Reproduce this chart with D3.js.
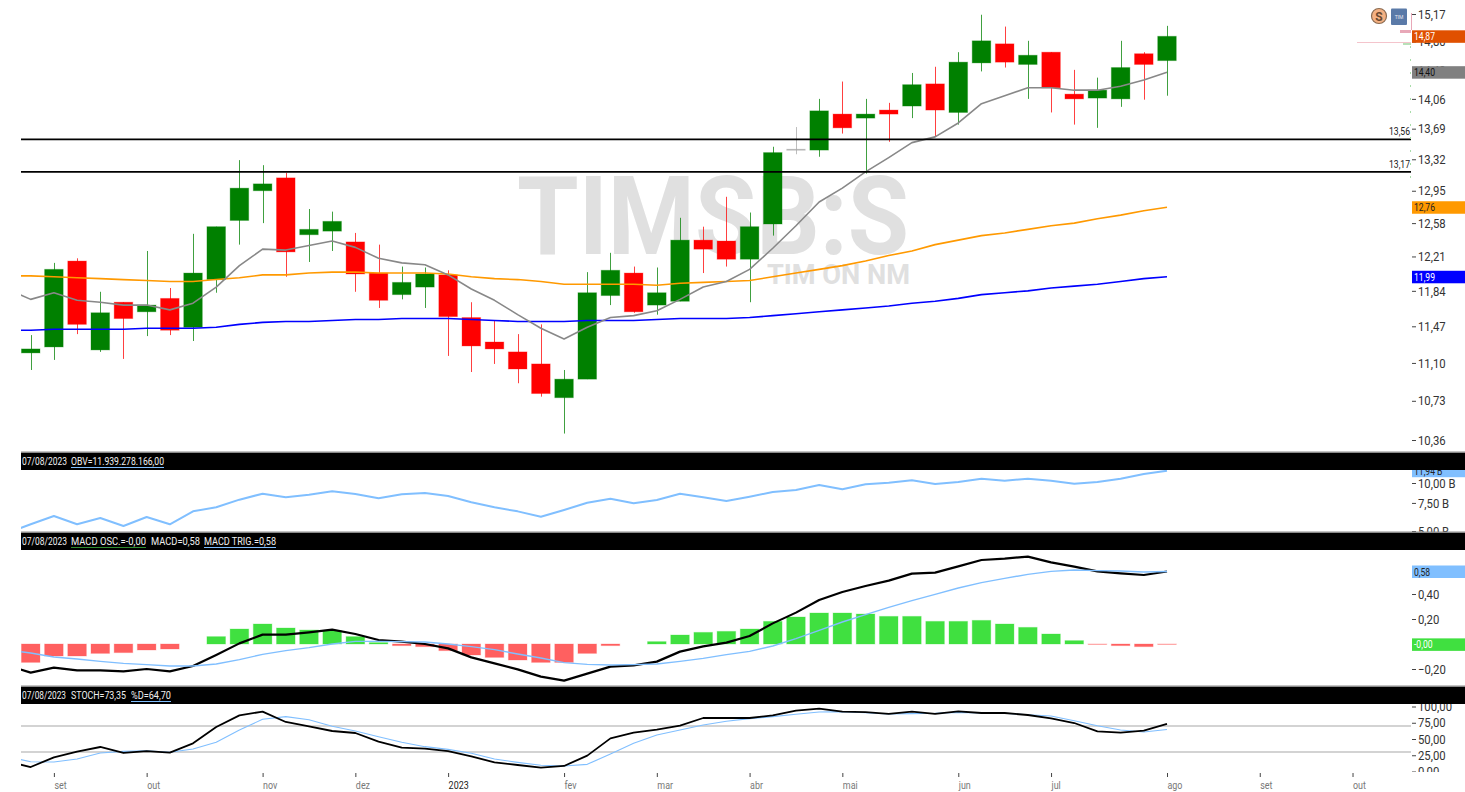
<!DOCTYPE html>
<html>
<head>
<meta charset="utf-8">
<title>TIMS3</title>
<script src="https://d3js.org/d3.v7.min.js"></script>
<style>
    body { margin: 0; background: #ffffff; overflow: hidden; }
    text { font-family: Roboto, "Open Sans", sans-serif; }
    .tick line { stroke: #444444; }
    .domain { display: none; }
</style>
</head>
<body>
<svg id="chart" width="1465" height="792"></svg>
<script>
// weekly candles, aug/2022 to aug/2023
var opens = [11.20,11.26,12.16,11.23,11.72,11.62,11.76,11.46,11.96,12.61,12.95,13.10,12.45,12.49,12.37,12.03,11.80,11.88,12.01,11.56,11.31,11.21,11.09,10.76,10.94,11.79,12.03,11.69,11.73,12.39,12.38,12.18,12.57,13.44,13.43,13.87,13.82,13.92,13.97,14.25,13.89,14.52,14.77,14.50,14.66,14.12,14.07,14.06,14.64,14.55];
var closes = [11.24,12.07,11.49,11.61,11.55,11.69,11.43,12.03,12.54,12.98,13.03,12.26,12.51,12.60,12.02,11.74,11.93,12.02,11.57,11.27,11.24,11.04,10.80,10.94,11.82,12.06,11.62,11.82,12.39,12.29,12.18,12.54,13.40,13.44,13.91,13.70,13.87,13.87,14.24,13.92,14.53,14.81,14.53,14.62,14.20,14.06,14.17,14.46,14.50,14.87];
var highs = [11.38,12.14,12.19,11.83,11.72,12.27,11.87,12.46,12.54,13.31,13.25,13.16,12.74,12.71,12.47,12.34,12.10,12.09,12.06,11.72,11.53,11.39,11.49,11.03,12.04,12.25,12.10,12.09,12.64,12.54,12.88,12.70,13.47,13.71,14.06,14.28,14.06,14.01,14.39,14.47,14.66,15.16,15.00,14.81,14.66,14.43,14.33,14.81,14.66,15.01];
var lows = [11.03,11.13,11.39,11.21,11.14,11.37,11.38,11.32,11.82,12.34,12.58,11.99,12.15,12.27,11.83,11.66,11.75,11.66,11.17,11.01,11.09,10.90,10.77,10.42,10.94,11.69,11.61,11.59,11.73,12.03,12.10,11.72,12.44,13.38,13.35,13.63,13.15,13.53,13.82,13.59,13.74,14.41,14.46,14.06,13.89,13.74,13.70,13.96,14.05,14.10];

// the line series start one week before the first visible candle
var maGrey = [11.86,11.75,11.82,11.74,11.72,11.69,11.69,11.64,11.71,11.88,12.11,12.29,12.28,12.33,12.38,12.31,12.19,12.14,12.12,12.01,11.86,11.74,11.59,11.45,11.34,11.46,11.56,11.58,11.63,11.75,11.88,11.94,12.07,12.30,12.55,12.82,12.98,13.17,13.34,13.52,13.59,13.76,14.00,14.10,14.20,14.20,14.17,14.17,14.22,14.30,14.40];
var maOrange = [12.00,12.00,11.99,11.98,11.97,11.96,11.95,11.94,11.94,11.96,11.98,12.01,12.01,12.03,12.04,12.04,12.03,12.03,12.03,12.02,11.99,11.97,11.96,11.94,11.91,11.91,11.91,11.91,11.90,11.92,11.93,11.94,11.95,11.99,12.03,12.07,12.11,12.16,12.22,12.27,12.34,12.39,12.44,12.47,12.51,12.55,12.58,12.63,12.67,12.72,12.76];
var maBlue = [11.43,11.43,11.44,11.44,11.44,11.44,11.45,11.45,11.45,11.46,11.49,11.51,11.52,11.52,11.53,11.54,11.54,11.55,11.55,11.55,11.54,11.53,11.52,11.52,11.52,11.53,11.53,11.53,11.54,11.55,11.55,11.55,11.56,11.58,11.60,11.62,11.64,11.66,11.68,11.71,11.73,11.76,11.80,11.82,11.84,11.87,11.89,11.91,11.94,11.97,11.99];
var supports = [13.56, 13.17];
var priceTicks = [15.17,14.80,14.43,14.06,13.69,13.32,12.95,12.58,12.21,11.84,11.47,11.10,10.73,10.36];

var obv = [4.86,5.51,6.21,5.51,6.03,5.37,6.12,5.51,6.64,7.04,7.86,8.57,8.13,8.44,8.87,8.53,8.02,8.49,8.66,8.29,7.57,7.04,6.64,6.14,6.77,7.52,7.97,7.46,7.82,8.57,8.13,7.71,8.20,8.78,9.04,9.71,9.13,9.81,10.04,10.40,9.86,10.15,10.64,10.34,10.64,10.34,9.90,10.15,10.64,11.39,11.94];
var obvTicks = [10, 7.5, 5];

var macdOsc = [-.147,-.096,-.096,-.075,-.069,-.048,-.04,0,.059,.12,.16,.128,.112,.107,.059,.011,-.013,-.021,-.053,-.088,-.107,-.128,-.147,-.147,-.075,-.013,0,.019,.072,.093,.101,.12,.181,.216,.248,.248,.24,.221,.221,.181,.181,.189,.16,.133,.08,.027,-.003,-.013,-.021,-.003];
var macdLine = [-.17,-.229,-.189,-.211,-.211,-.219,-.2,-.219,-.176,-.088,.005,.075,.075,.093,.115,.08,.032,.019,0,-.035,-.107,-.155,-.203,-.261,-.293,-.237,-.181,-.171,-.141,-.061,-.019,.011,.064,.165,.251,.352,.416,.464,.507,.563,.571,.621,.672,.683,.699,.653,.619,.581,.565,.552,.58];
var macdTrig = [-.048,-.072,-.104,-.12,-.139,-.155,-.165,-.176,-.176,-.16,-.125,-.083,-.053,-.029,0,.021,.021,.019,.016,0,-.021,-.045,-.08,-.112,-.149,-.163,-.168,-.165,-.16,-.139,-.115,-.085,-.059,-.016,.043,.109,.176,.235,.293,.347,.397,.448,.491,.525,.557,.581,.592,.587,.584,.576,.58];
var macdTicks = [0.4, 0.2, -0.2];

var stochK = [15.1,6.9,21.8,30.5,37.7,28.5,31.5,29,43.3,68.5,86.4,92.1,76.2,69.5,62.3,59.2,45.9,36.7,35.1,31.5,23.3,14.1,10,5.9,8.5,24.4,51,59.7,64.4,70.5,82.3,82.3,82.3,86.4,93.6,96.7,92.1,91.5,88.5,92.1,88.5,92.6,90,90,86.9,81.8,74.6,61.8,59.7,62.8,73.35];
var stochD = [22.8,15.1,14.6,19.2,28.5,31,32,29.5,34.6,44.9,63.9,80.3,84.4,79.7,69.5,62.3,53.6,44.9,38.2,34.1,28,19.2,14.1,9.5,8.5,11,26.9,43.3,56.2,63.9,71.5,77.2,81.3,84.4,88,91.5,92.1,90.5,88.5,89,89.5,91,90,89.5,87.4,85.4,78.2,70.5,63.9,60.8,64.7];
var stochTicks = [100, 75, 50, 25, 0];
var stochLevels = [70, 30];

var monthWeeks = [1,5,10,14,18,23,27,31,35,40,44,49,53,57];
var monthNames = ['set','out','nov','dez','2023','fev','mar','abr','mai','jun','jul','ago','set','out'];

var ptBr = d3.formatLocale({decimal: ',', thousands: '.', grouping: [3], currency: ['', '']});
var fmt2 = ptBr.format('.2f');

var svg = d3.select('#chart');
var plotLeft = 21, plotRight = 1411, width = 1465;

var x = d3.scaleLinear().domain([0, 49]).range([30.7, 1167]);
var yPrice = d3.scaleLog().domain([10.36, 15.17]).range([440, 14]);
var yObv = d3.scaleLog().domain([5, 10]).range([531, 483]);
var yMacd = d3.scaleLinear().domain([-0.2, 0.4]).range([669, 594]);
var yStoch = d3.scaleLinear().domain([0, 100]).range([771.5, 706.5]);

function addClip(id, x0, y0, w, h) {
    svg.append('clipPath').attr('id', id).append('rect')
        .attr('x', x0).attr('y', y0).attr('width', w).attr('height', h);
}
addClip('clip-main', plotLeft, 0, plotRight - plotLeft, 452);
addClip('clip-obv', plotLeft, 470, plotRight - plotLeft, 63);
addClip('clip-macd', plotLeft, 550, plotRight - plotLeft, 137);
addClip('clip-stoch', plotLeft, 704, plotRight - plotLeft, 68);
addClip('axis-main', plotRight, 0, 54, 452);
addClip('axis-obv', plotRight, 470, 54, 63);
addClip('axis-macd', plotRight, 550, 54, 137);
addClip('axis-stoch', plotRight, 704, 54, 68);

// text here is narrower than any installed font, so squeeze it to fit
function squeeze(sel, k) {
    sel.each(function() {
        var len = this.getComputedTextLength();
        d3.select(this).attr('textLength', len * k).attr('lengthAdjust', 'spacingAndGlyphs');
    });
}

function drawLine(g, values, yScale, color, w) {
    var line = d3.line()
        .x(function(d, i) { return x(i - 1); })
        .y(function(d) { return yScale(d); });
    g.append('path')
        .datum(values)
        .attr('fill', 'none')
        .attr('stroke', color)
        .attr('stroke-width', w)
        .attr('stroke-linejoin', 'round')
        .attr('d', line);
}

function drawYAxis(clipId, yScale, ticks, format) {
    var g = svg.append('g')
        .attr('clip-path', 'url(#' + clipId + ')')
        .append('g')
        .attr('transform', 'translate(1412,0)')
        .call(d3.axisRight(yScale).tickValues(ticks).tickFormat(format).tickSize(4).tickPadding(2));
    g.selectAll('text')
        .attr('font-size', 13)
        .attr('fill', '#333333')
        .call(squeeze, 0.87);
}

function drawTag(clipId, yPos, label, bg, fg) {
    var g = svg.append('g').attr('clip-path', 'url(#' + clipId + ')');
    g.append('rect')
        .attr('x', 1412).attr('y', yPos - 6)
        .attr('width', width - 1412).attr('height', 12.5)
        .attr('fill', bg);
    g.append('text')
        .attr('x', 1414).attr('y', yPos + 4)
        .attr('font-size', 11)
        .attr('fill', fg)
        .text(label)
        .call(squeeze, 0.78);
}

function drawHeader(top, parts) {
    svg.append('rect').attr('x', plotLeft).attr('y', top - 1.5).attr('width', width - plotLeft).attr('height', 1.5).attr('fill', '#8a8a8a');
    svg.append('rect').attr('x', plotLeft).attr('y', top).attr('width', width - plotLeft).attr('height', 17).attr('fill', '#000000');
    parts.forEach(function(p) {
        svg.append('text')
            .attr('x', p.x).attr('y', top + 12)
            .attr('font-size', 11)
            .attr('fill', '#f0f0f0')
            .attr('textLength', p.w)
            .attr('lengthAdjust', 'spacingAndGlyphs')
            .text(p.t);
        if (p.u) {
            svg.append('line')
                .attr('x1', p.x).attr('x2', p.x + p.w)
                .attr('y1', top + 14.5).attr('y2', top + 14.5)
                .attr('stroke', p.u);
        }
    });
}

// ---- price panel
var main = svg.append('g').attr('clip-path', 'url(#clip-main)');

main.append('text')
    .attr('x', 517).attr('y', 254)
    .attr('font-size', 110).attr('font-weight', 700)
    .attr('fill', '#e0e0e0')
    .attr('textLength', 392).attr('lengthAdjust', 'spacingAndGlyphs')
    .text('TIMSB:S');
main.append('text')
    .attr('x', 767).attr('y', 284)
    .attr('font-size', 28).attr('font-weight', 700)
    .attr('fill', '#e0e0e0')
    .attr('textLength', 143).attr('lengthAdjust', 'spacingAndGlyphs')
    .text('TIM ON NM');

var bodyW = (x(1) - x(0)) * 0.8;
function candleColor(i) {
    if (closes[i] > opens[i]) return '#008000';
    if (closes[i] < opens[i]) return '#ff0000';
    return '#a8a8a8';
}
var candle = main.selectAll('.candle')
    .data(opens)
    .enter().append('g')
    .attr('class', 'candle');
candle.append('line')
    .attr('x1', function(d, i) { return Math.round(x(i)) + 0.5; })
    .attr('x2', function(d, i) { return Math.round(x(i)) + 0.5; })
    .attr('y1', function(d, i) { return yPrice(highs[i]); })
    .attr('y2', function(d, i) { return yPrice(lows[i]); })
    .attr('stroke', function(d, i) { return candleColor(i); })
    .attr('stroke-opacity', 0.75);
candle.append('rect')
    .attr('x', function(d, i) { return x(i) - bodyW / 2; })
    .attr('y', function(d, i) { return yPrice(Math.max(opens[i], closes[i])); })
    .attr('width', bodyW)
    .attr('height', function(d, i) { return Math.max(1, Math.abs(yPrice(opens[i]) - yPrice(closes[i]))); })
    .attr('fill', function(d, i) { return candleColor(i); })
    .attr('stroke', function(d, i) { return candleColor(i); })
    .attr('stroke-opacity', 0.3);

drawLine(main, maBlue, yPrice, '#0000ff', 1.6);
drawLine(main, maOrange, yPrice, '#ff9900', 1.6);
drawLine(main, maGrey, yPrice, '#888888', 1.6);

main.selectAll('.support')
    .data(supports)
    .enter().append('line')
    .attr('class', 'support')
    .attr('x1', plotLeft).attr('x2', plotRight)
    .attr('y1', function(d) { return yPrice(d); })
    .attr('y2', function(d) { return yPrice(d); })
    .attr('stroke', '#000000')
    .attr('stroke-width', 1.6);
main.selectAll('.support-label')
    .data(supports)
    .enter().append('text')
    .attr('class', 'support-label')
    .attr('x', 1410)
    .attr('y', function(d) { return yPrice(d) - 4; })
    .attr('text-anchor', 'end')
    .attr('font-size', 11)
    .attr('fill', '#222222')
    .text(function(d) { return fmt2(d); })
    .call(squeeze, 0.78);

// small price-profile marks next to the axis
main.append('line').attr('x1', 1357).attr('x2', plotRight).attr('y1', 42.5).attr('y2', 42.5).attr('stroke', '#f4c4cc');
main.append('rect').attr('x', 1400).attr('y', 30).attr('width', 11).attr('height', 3).attr('fill', '#e8a8b8');
main.append('rect').attr('x', 1403).attr('y', 43).attr('width', 8).attr('height', 2).attr('fill', '#b8e0b8');
svg.append('line').attr('x1', 1411.5).attr('x2', 1411.5).attr('y1', 13).attr('y2', 30).attr('stroke', '#e8a8b8');
svg.append('line').attr('x1', 1410.5).attr('x2', 1410.5).attr('y1', 46).attr('y2', 180)
    .attr('stroke', '#a8dca8').attr('stroke-dasharray', '2,11');

drawYAxis('axis-main', yPrice, priceTicks, fmt2);
drawTag('axis-main', yPrice(closes[49]), fmt2(closes[49]), '#e05000', '#ffffff');
drawTag('axis-main', yPrice(maGrey[50]), fmt2(maGrey[50]), '#808080', '#111111');
drawTag('axis-main', yPrice(maOrange[50]), fmt2(maOrange[50]), '#ff9900', '#222222');
drawTag('axis-main', yPrice(maBlue[50]), fmt2(maBlue[50]), '#0000ff', '#ffffff');

// corner icons
svg.append('circle').attr('cx', 1379).attr('cy', 16).attr('r', 7.5)
    .attr('fill', '#f4b183').attr('stroke', '#8a6a50').attr('stroke-width', 1.2);
svg.append('text').attr('x', 1379).attr('y', 20.5).attr('text-anchor', 'middle')
    .attr('font-size', 12).attr('font-weight', 700).attr('fill', '#6a4a30').text('S');
svg.append('rect').attr('x', 1391).attr('y', 8.5).attr('width', 16).attr('height', 16.5).attr('rx', 1).attr('fill', '#5a7aa8');
svg.append('text').attr('x', 1399).attr('y', 19).attr('text-anchor', 'middle')
    .attr('font-size', 5).attr('fill', '#e8e8f0').text('TIM');

// ---- OBV panel
drawHeader(453, [
    {t: '07/08/2023', x: 22, w: 45},
    {t: 'OBV=11.939.278.166,00', x: 71, w: 93, u: '#80bfff'}
]);
var obvG = svg.append('g').attr('clip-path', 'url(#clip-obv)');
drawLine(obvG, obv, yObv, '#80bfff', 2);
drawYAxis('axis-obv', yObv, obvTicks, function(d) { return fmt2(d) + ' B'; });
drawTag('axis-obv', yObv(obv[50]), fmt2(obv[50]) + ' B', '#80bfff', '#222222');

// ---- MACD panel
drawHeader(533, [
    {t: '07/08/2023', x: 22, w: 45},
    {t: 'MACD OSC.=-0,00', x: 71, w: 75, u: '#2e8b2e'},
    {t: 'MACD=0,58', x: 151, w: 49},
    {t: 'MACD TRIG.=0,58', x: 204, w: 72, u: '#80bfff'}
]);
var macdG = svg.append('g').attr('clip-path', 'url(#clip-macd)');
macdG.selectAll('.osc')
    .data(macdOsc)
    .enter().append('rect')
    .attr('class', 'osc')
    .attr('x', function(d, i) { return x(i) - bodyW / 2; })
    .attr('y', function(d) { return yMacd(Math.max(d, 0)); })
    .attr('width', bodyW)
    .attr('height', function(d) { return Math.abs(yMacd(d) - yMacd(0)); })
    .attr('fill', function(d) { return d >= 0 ? '#40e040' : '#ff6060'; })
    .attr('stroke', function(d) { return d >= 0 ? '#40e040' : '#ff6060'; })
    .attr('stroke-opacity', 0.3);
drawLine(macdG, macdLine, yMacd, '#000000', 2.2);
drawLine(macdG, macdTrig, yMacd, '#80bfff', 1.4);
drawYAxis('axis-macd', yMacd, macdTicks, fmt2);
drawTag('axis-macd', yMacd(macdTrig[50]), fmt2(macdTrig[50]), '#80bfff', '#222222');
drawTag('axis-macd', yMacd(macdOsc[49]), '-' + fmt2(Math.abs(macdOsc[49])), '#40e040', '#ffffff');

// ---- Stochastic panel
drawHeader(687, [
    {t: '07/08/2023', x: 22, w: 44},
    {t: 'STOCH=73,35', x: 71, w: 55},
    {t: '%D=64,70', x: 131, w: 40, u: '#80bfff'}
]);
var stochG = svg.append('g').attr('clip-path', 'url(#clip-stoch)');
stochG.selectAll('.level')
    .data(stochLevels)
    .enter().append('line')
    .attr('class', 'level')
    .attr('x1', plotLeft).attr('x2', plotRight)
    .attr('y1', function(d) { return yStoch(d); })
    .attr('y2', function(d) { return yStoch(d); })
    .attr('stroke', '#c4c4c4')
    .attr('stroke-width', 1.5);
drawLine(stochG, stochD, yStoch, '#80bfff', 1.1);
drawLine(stochG, stochK, yStoch, '#000000', 1.8);
drawYAxis('axis-stoch', yStoch, stochTicks, fmt2);

// ---- month axis
var xAxis = svg.append('g')
    .attr('transform', 'translate(0,773)')
    .call(d3.axisBottom(x)
        .tickValues(monthWeeks)
        .tickFormat(function(d, i) { return monthNames[i]; })
        .tickSize(4)
        .tickPadding(5));
xAxis.selectAll('.tick line').attr('stroke', '#aaaaaa');
xAxis.selectAll('text')
    .attr('text-anchor', 'start')
    .attr('font-size', 10.5)
    .attr('fill', function(d, i) { return monthNames[i] === '2023' ? '#222222' : '#777777'; })
    .call(squeeze, 0.85);
</script>
</body>
</html>
